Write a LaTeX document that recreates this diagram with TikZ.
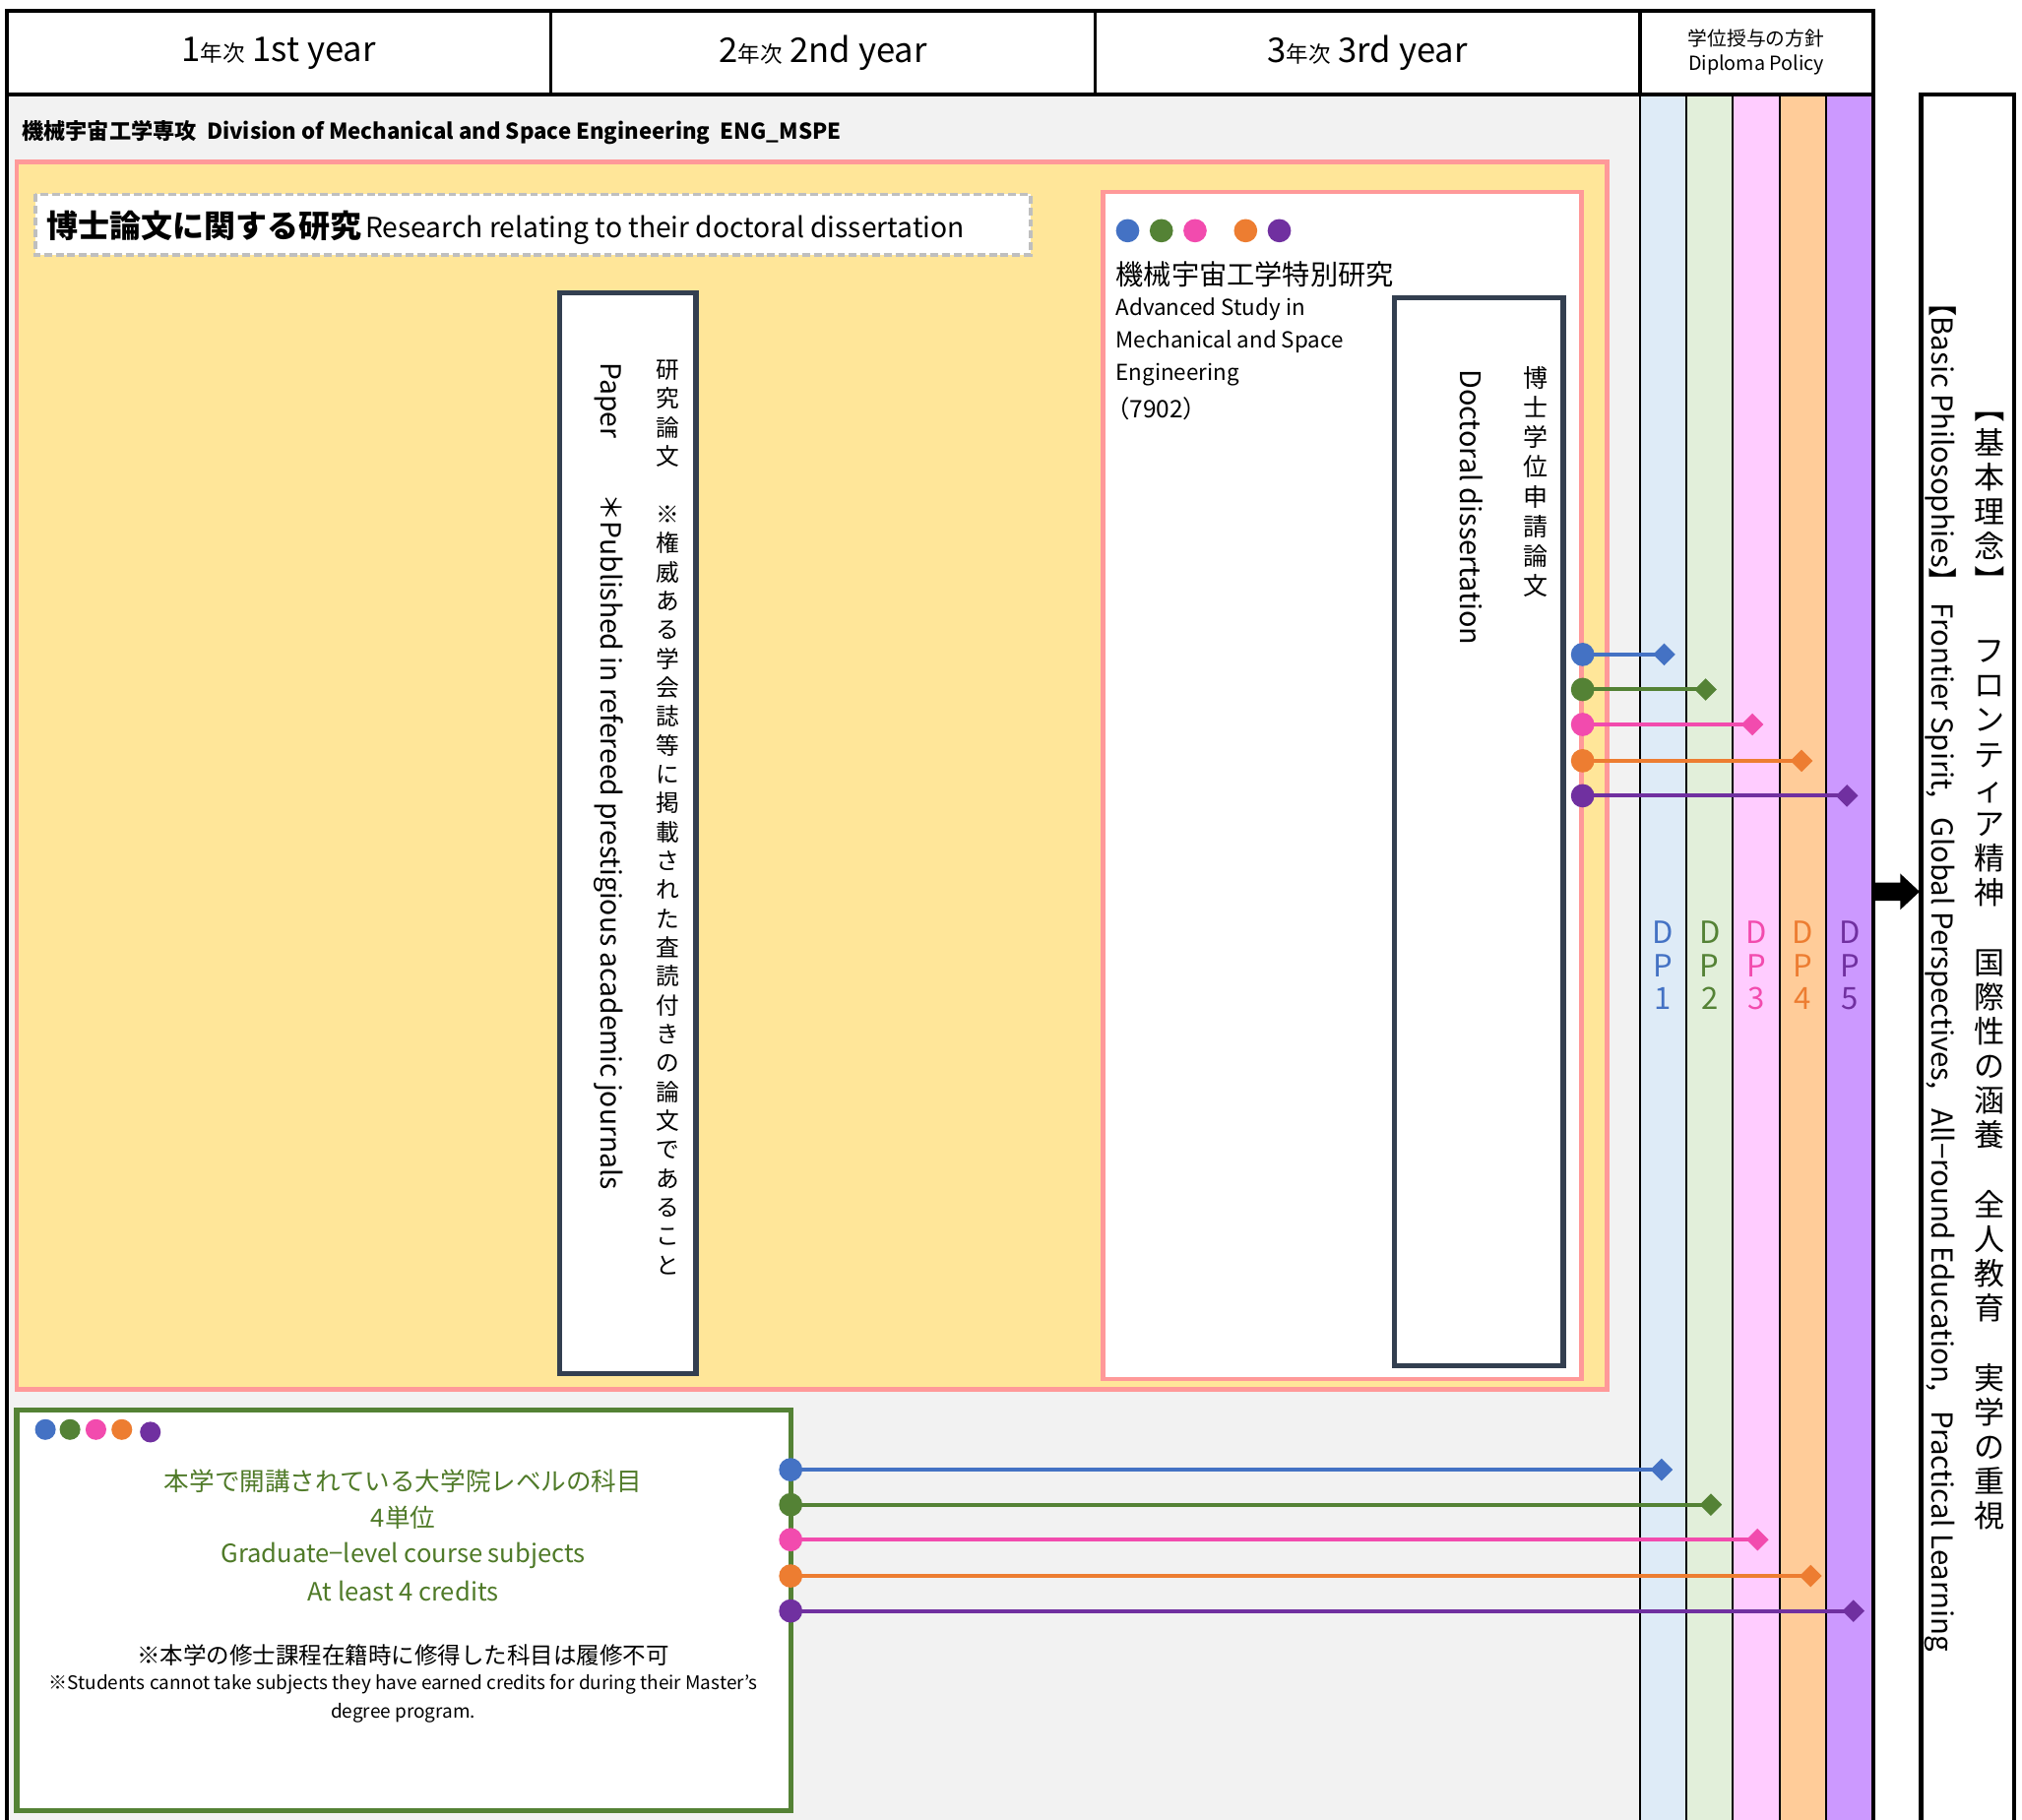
\documentclass[tikz,border=0pt]{standalone}
\usepackage{fontspec}
\setmainfont{Noto Sans CJK JP}
\usepackage{graphicx}
\usetikzlibrary{arrows.meta}
\definecolor{bgGray}{HTML}{F2F2F2}
\definecolor{yel}{HTML}{FFE699}
\definecolor{pinkB}{HTML}{FF9999}
\definecolor{navyB}{HTML}{333F50}
\definecolor{dpA}{HTML}{DEEBF7}
\definecolor{dpB}{HTML}{E2EFDA}
\definecolor{dpC}{HTML}{FFCCFF}
\definecolor{dpD}{HTML}{FFCC99}
\definecolor{dpE}{HTML}{CC99FF}
\definecolor{cBlue}{HTML}{4472C4}
\definecolor{cGreen}{HTML}{548235}
\definecolor{cPink}{HTML}{F24BAE}
\definecolor{cOrange}{HTML}{ED7D31}
\definecolor{cPurple}{HTML}{7030A0}
\definecolor{txtGreen}{HTML}{4F7A28}
\definecolor{dashGray}{HTML}{BFBFBF}
\makeatletter
\def\vstack#1{\vst@a#1\vst@end}
\def\vst@a#1#2\vst@end{#1\ifx\relax#2\relax\else\\\vst@a#2\vst@end\fi}
\makeatother
\newcommand\rbr[1]{\rotatebox[origin=c]{-90}{#1}}
\begin{document}
\begin{tikzpicture}[x=0.7pt,y=-0.7pt,
  every node/.style={inner sep=0pt,outer sep=0pt},
  tate/.style={align=center,anchor=north},
  vert/.style={rotate=-90,anchor=west},
  conn/.style={line width=2.1pt,{Circle[length=12.6pt,width=12.6pt]}-{Diamond[length=12pt,width=12pt]}},
  thickline/.style={line width=2.1pt,black},
  thinline/.style={line width=1pt,black},
  pinkbox/.style={draw=pinkB,line width=2.4pt},
  navybox/.style={draw=navyB,fill=white,line width=2.8pt},
  dplabel/.style={align=center,font={\fontsize{16.5pt}{17.9pt}\selectfont}},
]
\useasboundingbox (0,0) rectangle (1560,1404.3);
\fill[white] (0,0) rectangle (1560,1404.3);
% backgrounds
\fill[bgGray] (5,73) rectangle (1265,1410);
\fill[dpA] (1265,73) rectangle (1301,1410);
\fill[dpB] (1301,73) rectangle (1337,1410);
\fill[dpC] (1337,73) rectangle (1373,1410);
\fill[dpD] (1373,73) rectangle (1409,1410);
\fill[dpE] (1409,73) rectangle (1445,1410);
\fill[white] (5,8) rectangle (1445,73);
% grid lines
\foreach \xx in {1265,1301,1337,1373,1409} \draw[thinline] (\xx,73) -- (\xx,1410);
\draw[line width=1.2pt] (425,8) -- (425,73);
\draw[line width=1.2pt] (845,8) -- (845,73);
\draw[thickline] (1265,8) -- (1265,73);
\draw[thickline] (5,8) -- (1445,8);
\draw[thickline] (5,73) -- (1445,73);
\draw[thickline] (5,7) -- (5,1410);
\draw[thickline] (1445,7) -- (1445,1410);
% header texts
\node (h1) at (215,41) {\fontsize{18.4pt}{20pt}\selectfont 1{\fontsize{12pt}{12pt}\selectfont 年次} 1st year};
\node (h2) at (635,41) {\fontsize{18.4pt}{20pt}\selectfont 2{\fontsize{12pt}{12pt}\selectfont 年次} 2nd year};
\node (h3) at (1055,41) {\fontsize{18.4pt}{20pt}\selectfont 3{\fontsize{12pt}{12pt}\selectfont 年次} 3rd year};
\node[align=center,font={\fontsize{10.5pt}{13.3pt}\selectfont}] (hdp) at (1355,40) {学位授与の方針\\Diploma Policy};
% division title
\node[anchor=west,font={\fontsize{11.8pt}{14pt}\selectfont\bfseries}] (div) at (17,102) {機械宇宙工学専攻\ \ Division of Mechanical and Space Engineering\ \ ENG\_MSPE};
% yellow research box
\draw[pinkbox,fill=yel] (13,125) rectangle (1240,1072);
\draw[fill=white,draw=dashGray,line width=2.1pt,dash pattern=on 4.2pt off 2.1pt] (27,150) rectangle (795,197);
\node[anchor=west] (rtitle) at (36,176) {{\fontsize{17pt}{18pt}\selectfont\bfseries 博士論文に関する研究} {\fontsize{15pt}{18pt}\selectfont Research relating to their doctoral dissertation}};
% paper box
\draw[navybox] (432,226) rectangle (537,1060);
\node[tate,font={\fontsize{12.6pt}{15.6pt}\selectfont}] (pjp) at (515,278) {\vstack{研究論文　※権威ある学会誌等に掲載された査読付きの論文であること}};
\node[vert,font={\fontsize{15pt}{16pt}\selectfont}] (pen) at (470,280) {Paper\hspace{2em}＊Published in refereed prestigious academic journals};
% advanced study box
\draw[pinkbox,fill=white] (851,148) rectangle (1220,1064);
\fill[cBlue] (870,178) circle (6.3pt);
\fill[cGreen] (896,178) circle (6.3pt);
\fill[cPink] (922,178) circle (6.3pt);
\fill[cOrange] (961,178) circle (6.3pt);
\fill[cPurple] (987,178) circle (6.3pt);
\node[anchor=west,font={\fontsize{15pt}{16pt}\selectfont}] (adjp) at (861,212) {機械宇宙工学特別研究};
\node[anchor=west,font={\fontsize{11.9pt}{14pt}\selectfont}] (ad1) at (861,239) {Advanced Study in};
\node[anchor=west,font={\fontsize{11.9pt}{14pt}\selectfont}] (ad2) at (861,264) {Mechanical and Space};
\node[anchor=west,font={\fontsize{11.9pt}{14pt}\selectfont}] (ad3) at (861,289) {Engineering};
\node[anchor=west,font={\fontsize{13pt}{14pt}\selectfont}] (ad4) at (853,315) {（7902）};
% doctoral box
\draw[navybox] (1076,230) rectangle (1206,1054);
\node[tate,font={\fontsize{13.3pt}{16pt}\selectfont}] (djp) at (1185,283) {\vstack{博士学位申請論文}};
\node[vert,font={\fontsize{15.3pt}{16pt}\selectfont}] (den) at (1135,285) {Doctoral dissertation};
% DP labels
\node[dplabel,text=cBlue] (dp1) at (1283,745) {D\\P\\1};
\node[dplabel,text=cGreen] (dp2) at (1319,745) {D\\P\\2};
\node[dplabel,text=cPink] (dp3) at (1355,745) {D\\P\\3};
\node[dplabel,text=cOrange] (dp4) at (1391,745) {D\\P\\4};
\node[dplabel,text=cPurple] (dp5) at (1427,745) {D\\P\\5};
% green course box
\draw[draw=cGreen,fill=white,line width=2.8pt] (13,1088) rectangle (610,1397);
\fill[cBlue] (35,1103) circle (5.6pt);
\fill[cGreen] (54,1103) circle (5.6pt);
\fill[cPink] (74,1103) circle (5.6pt);
\fill[cOrange] (94,1103) circle (5.6pt);
\fill[cPurple] (116,1105) circle (5.6pt);
\node[text=txtGreen,font={\fontsize{13.6pt}{16pt}\selectfont}] (g1) at (311,1143) {本学で開講されている大学院レベルの科目};
\node[text=txtGreen,font={\fontsize{13.6pt}{16pt}\selectfont}] (g2) at (311,1171) {4単位};
\node[text=txtGreen,font={\fontsize{13.6pt}{16pt}\selectfont}] (g3) at (311,1200) {Graduate−level course subjects};
\node[text=txtGreen,font={\fontsize{13.6pt}{16pt}\selectfont}] (g4) at (311,1228) {At least 4 credits};
\node[font={\fontsize{12.5pt}{14pt}\selectfont}] (g5) at (311,1277) {※本学の修士課程在籍時に修得した科目は履修不可};
\node[font={\fontsize{10.1pt}{11pt}\selectfont}] (g6) at (311,1300) {※Students cannot take subjects they have earned credits for during their Master’s};
\node[font={\fontsize{10.1pt}{11pt}\selectfont}] (g7) at (311,1322) {degree program.};
% connectors (doctoral dissertation -> DP)
\foreach \i/\yy/\xe/\cc in {1/505/1284/cBlue,2/532/1316/cGreen,3/559/1352/cPink,4/587/1390/cOrange,5/614/1425/cPurple}{
  \coordinate (ts\i) at (1212,\yy);
  \coordinate (te\i) at (\xe+8.5,\yy);
  \draw[conn,\cc] (ts\i) -- (te\i);
}
% connectors (course subjects -> DP)
\foreach \i/\yy/\xe/\cc in {1/1134/1282/cBlue,2/1161/1320/cGreen,3/1188/1356/cPink,4/1216/1397/cOrange,5/1243/1430/cPurple}{
  \coordinate (bs\i) at (601,\yy);
  \coordinate (be\i) at (\xe+8.5,\yy);
  \draw[conn,\cc] (bs\i) -- (be\i);
}
% block arrow
\fill[black] (1447,681) -- (1466,681) -- (1466,674) -- (1481,688) -- (1466,702) -- (1466,695) -- (1447,695) -- cycle;
% philosophy box
\draw[line width=2.4pt,black] (1482,1410) -- (1482,73) -- (1554,73) -- (1554,1410);
\node[tate,font={\fontsize{16.5pt}{18.7pt}\selectfont}] (phjp) at (1535,303) {\vstack{{\rbr{【}}基本理念{\rbr{】}}　フロンティア精神　国際性の涵養　全人教育　実学の重視}};
\node[vert,font={\fontsize{15.6pt}{16pt}\selectfont}] (phen) at (1497,222) {【Basic Philosophies】 Frontier Spirit,\ \ \ Global Perspectives,\ \ \ All−round Education,\ \ \ Practical Learning};
\end{tikzpicture}
\end{document}
